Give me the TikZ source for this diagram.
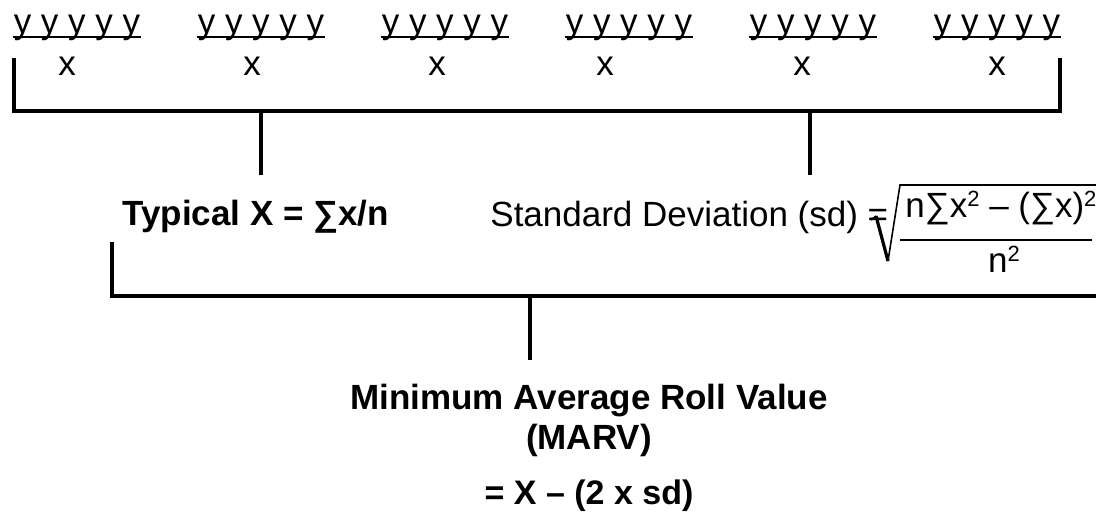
\documentclass[tikz,border=0pt]{standalone}
\usepackage{fontspec}
\setmainfont{Liberation Sans}
\usetikzlibrary{positioning}
\newcommand{\sqd}{\raisebox{5.5pt}{\fontsize{11}{10}\selectfont 2}}

\begin{document}
\begin{tikzpicture}[x=0.5pt,y=-0.5pt,
  every node/.style={inner sep=0pt, font=\fontsize{17.5}{20}\selectfont},
  bracket/.style={line width=2pt, line join=miter},
  rule/.style={line width=1pt}]
\clip (0,0) rectangle (1096,511);
\useasboundingbox (0,0) rectangle (1096,511);

% Rolls and their values
\foreach \i/\yc/\xc in {1/77/67, 2/261/252, 3/445/437, 4/629/605, 5/813/802, 6/997/997} {
  \node[anchor=base] (y\i) at (\yc,33) {y y y y y};
  \draw[rule] ([yshift=-2pt]y\i.base west) -- ([yshift=-2pt]y\i.base east);
  \node[anchor=base] (x\i) at (\xc,75) {x};
}

% Upper bracket
\coordinate (ua) at (14,58);
\coordinate (ub) at (1060,58);
\draw[bracket] (ua) -- ++(0,53) -| (ub);
\coordinate (ud1) at (261,175);
\coordinate (ud2) at (810,175);
\draw[bracket] (ud1) -- ++(0,-64);
\draw[bracket] (ud2) -- ++(0,-64);

% Typical value and spread
\node[anchor=base west] (typ) at (122,225) {\bfseries Typical X = ∑x/n};
\node[anchor=base west] (sd) at (490,226) {Standard Deviation (sd) =};
\node[anchor=base west] (num) at (905,217) {n∑x\sqd{} – (∑x)\sqd};
\node[anchor=base] (den) at (1004,272) {n\sqd};
\coordinate (fl) at (900,240);
\coordinate (fr) at (1092,240);
\draw[line width=1pt] (fl) -- (fr);
\coordinate (ra) at (871,220);
\coordinate (rb) at (888,261);
\coordinate (rc) at (900,185);
\draw[line width=0.8pt] (ra) -- ++(5,-4);
\draw[line width=1.6pt] (876,216) -- (rb);
\draw[line width=0.8pt, line join=miter] (rb) -- (rc) -- ++(210,0);

% Lower bracket
\coordinate (la) at (112,242);
\draw[bracket] (la) -- ++(0,54) -- ++(1000,0);
\coordinate (ld) at (530,360);
\draw[bracket] (ld) -- ++(0,-64);

% Result
\node[anchor=base, font=\fontsize{17.5}{20}\selectfont\bfseries] (marv) at (589,409) {Minimum Average Roll Value};
\node[anchor=base, font=\fontsize{17.5}{20}\selectfont\bfseries] (abbr) at (589,449) {(MARV)};
\node[anchor=base, font=\fontsize{17}{20}\selectfont\bfseries] (eq) at (589,504) {= X – (2 x sd)};

\end{tikzpicture}
\end{document}
